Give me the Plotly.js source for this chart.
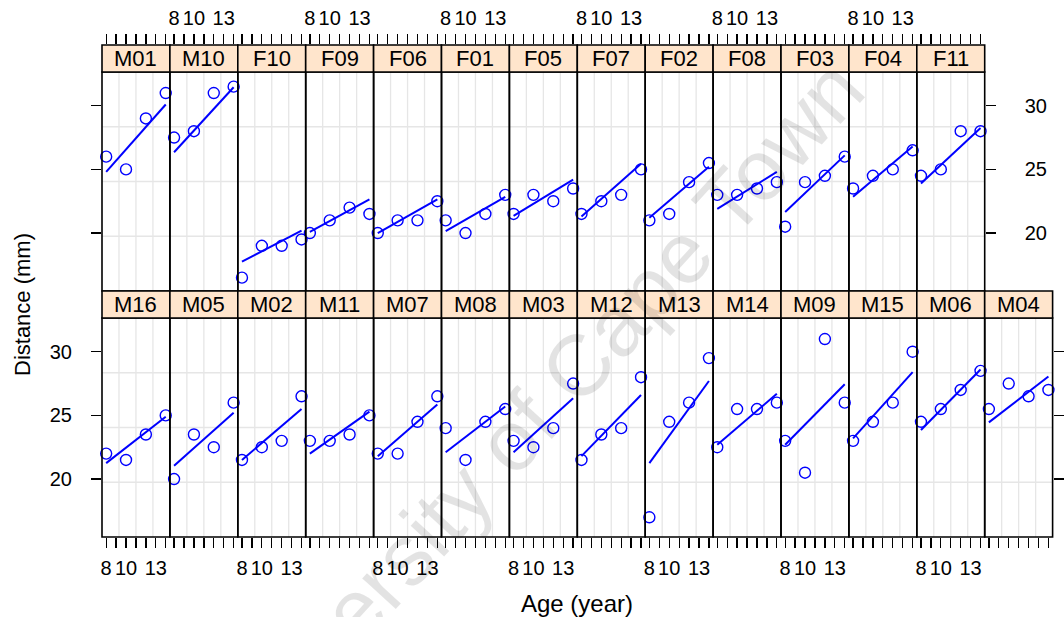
<!DOCTYPE html>
<html>
<head>
<meta charset="utf-8">
<script src="https://cdn.plot.ly/plotly-3.0.1.min.js"></script>
<style>html,body{margin:0;padding:0;background:#fff;}#chart{width:1064px;height:617px;}</style>
</head>
<body>
<div id="chart"></div>
<script>
// ---------------- data ----------------
const ages = [8, 10, 12, 14];
const ageTicks = [8, 9, 10, 11, 12, 13, 14];
const ageTickLabels = ['8', '', '10', '', '', '13', ''];
const distanceTicks = [20, 25, 30];

const topSubjects = ['M01','M10','F10','F09','F06','F01','F05','F07','F02','F08','F03','F04','F11'];
const topDistances = [
  [26, 25, 29, 31], [27.5, 28, 31, 31.5], [16.5, 19, 19, 19.5], [20, 21, 22, 21.5],
  [20, 21, 21, 22.5], [21, 20, 21.5, 23], [21.5, 23, 22.5, 23.5], [21.5, 22.5, 23, 25],
  [21, 21.5, 24, 25.5], [23, 23, 23.5, 24], [20.5, 24, 24.5, 26], [23.5, 24.5, 25, 26.5],
  [24.5, 25, 28, 28]
];
const topFitAt8  = [24.8, 26.35, 17.75, 20.1, 20.0, 20.15, 21.35, 21.3, 21.2, 21.9, 21.65, 22.85, 23.9];
const topFitAt14 = [30.1, 31.45, 20.2, 22.65, 22.65, 22.85, 24.2, 25.45, 25.2, 24.8, 26.1, 26.8, 28.25];

const bottomSubjects = ['M16','M05','M02','M11','M07','M08','M03','M12','M13','M14','M09','M15','M06','M04'];
const bottomDistances = [
  [22, 21.5, 23.5, 25], [20, 23.5, 22.5, 26], [21.5, 22.5, 23, 26.5], [23, 23, 23.5, 25],
  [22, 22, 24.5, 26.5], [24, 21.5, 24.5, 25.5], [23, 22.5, 24, 27.5], [21.5, 23.5, 24, 28],
  [17, 24.5, 26, 29.5], [22.5, 25.5, 25.5, 26], [23, 20.5, 31, 26], [23, 24.5, 26, 30],
  [24.5, 25.5, 27, 28.5], [25.5, 27.5, 26.5, 27]
];
const bottomFitAt8  = [21.25, 21.05, 21.5, 22.0, 21.8, 22.1, 22.1, 21.8, 21.25, 22.7, 22.7, 23.2, 23.85, 24.45];
const bottomFitAt14 = [24.9, 25.2, 25.5, 25.3, 25.85, 25.7, 26.35, 26.6, 27.7, 26.7, 27.45, 28.4, 28.6, 28.05];

const xTitle = 'Age (year)';
const yTitle = 'Distance (mm)';
const watermark = 'University of Cape Town';

// ---------------- geometry ----------------
const W = 1064, H = 617;
const colLeft = 102, colW = 67.9;
const topPanel = [72, 291], bottomPanel = [318, 537];
const topStrip = [45, 72], bottomStrip = [291, 318];
const FONT = 'Liberation Sans, Arial, Helvetica, sans-serif';
const BLUE = '#0000ff';
const xRange = [7.58, 14.42];
const yRange = [15.45, 32.65];

function xd(c) { return [(colLeft + c * colW) / W, (colLeft + (c + 1) * colW) / W]; }
function yd(p) { return [1 - p[1] / H, 1 - p[0] / H]; }
function xid(n) { return n === 1 ? 'x' : 'x' + n; }
function xkey(n) { return n === 1 ? 'xaxis' : 'xaxis' + n; }

const traces = [];
const shapes = [];
const annotations = [];
const layout = {
  width: W, height: H, autosize: false,
  margin: {l: 0, r: 0, t: 0, b: 0, pad: 0},
  paper_bgcolor: '#ffffff', plot_bgcolor: 'rgba(0,0,0,0)',
  showlegend: false,
  font: {family: FONT, color: '#000000', size: 18}
};

const baseX = {
  range: xRange, showgrid: false, zeroline: false, showline: false,
  ticks: 'outside', ticklen: 10, tickwidth: 1.3, tickcolor: '#000',
  tickmode: 'array', tickvals: ageTicks, ticktext: ageTickLabels,
  tickfont: {family: FONT, size: 20, color: '#000'}, ticklabelstandoff: 3,
  fixedrange: true
};
const baseY = {
  range: yRange, showgrid: false, zeroline: false, showline: false,
  ticks: 'outside', ticklen: 10, tickwidth: 1.3, tickcolor: '#000',
  tickmode: 'array', tickvals: distanceTicks, ticktext: distanceTicks.map(String),
  tickfont: {family: FONT, size: 20, color: '#000'}, ticklabelstandoff: 15,
  fixedrange: true
};

// bottom x axes (columns 1..14), anchored to bottom row
for (let c = 0; c < 14; c++) {
  layout[xkey(c + 1)] = Object.assign({}, baseX, {
    domain: xd(c), anchor: 'y', side: 'bottom',
    showticklabels: c % 2 === 0
  });
}
// top tick axes (columns 1..13), anchored to the strip row axis y3
for (let c = 0; c < 13; c++) {
  layout[xkey(15 + c)] = Object.assign({}, baseX, {
    domain: xd(c), anchor: 'y3', side: 'top',
    showticklabels: c % 2 === 1, ticklabelstandoff: 1
  });
  traces.push({type: 'scatter', x: [], y: [], xaxis: xid(15 + c), yaxis: 'y3', hoverinfo: 'skip', showlegend: false});
}
// y axes
layout.yaxis  = Object.assign({}, baseY, {domain: yd(bottomPanel), anchor: 'x', side: 'left'});
layout.yaxis2 = Object.assign({}, baseY, {domain: yd(topPanel), anchor: 'x13', side: 'right', ticklabelstandoff: 25});
layout.yaxis3 = {domain: yd(topStrip), range: [0, 1], visible: false, anchor: 'x15', fixedrange: true};
layout.yaxis4 = Object.assign({}, baseY, {domain: yd(bottomPanel), anchor: 'x14', side: 'right', showticklabels: false});
layout.yaxis5 = Object.assign({}, baseY, {domain: yd(topPanel), anchor: 'x', side: 'left', showticklabels: false});
traces.push({type: 'scatter', x: [], y: [], xaxis: 'x14', yaxis: 'y4', hoverinfo: 'skip', showlegend: false});
traces.push({type: 'scatter', x: [], y: [], xaxis: 'x', yaxis: 'y5', hoverinfo: 'skip', showlegend: false});

function addPanel(c, yAxisId, panelPix, stripPix, subject, values, fit8, fit14) {
  const xa = xid(c + 1);
  // grid (quarters of the panel)
  [0.25, 0.5, 0.75].forEach(f => {
    shapes.push({type: 'line', layer: 'below', xref: xa + ' domain', yref: 'paper',
      x0: f, x1: f, y0: 1 - panelPix[1] / H, y1: 1 - panelPix[0] / H,
      line: {color: '#e6e6e6', width: 1.3}});
    const yy = 1 - (panelPix[1] - f * (panelPix[1] - panelPix[0])) / H;
    shapes.push({type: 'line', layer: 'below', xref: xa + ' domain', yref: 'paper',
      x0: 0, x1: 1, y0: yy, y1: yy, line: {color: '#e6e6e6', width: 1.3}});
  });
  // fitted line
  traces.push({type: 'scatter', mode: 'lines', x: [ages[0], ages[ages.length - 1]], y: [fit8, fit14],
    xaxis: xa, yaxis: yAxisId, line: {color: BLUE, width: 2}, hoverinfo: 'skip', showlegend: false});
  // observations
  traces.push({type: 'scatter', mode: 'markers', x: ages, y: values, xaxis: xa, yaxis: yAxisId,
    marker: {symbol: 'circle-open', size: 11, color: BLUE, line: {color: BLUE, width: 1.4}},
    cliponaxis: false, showlegend: false, name: subject});
  // panel border
  shapes.push({type: 'rect', layer: 'above', xref: xa + ' domain', yref: 'paper',
    x0: 0, x1: 1, y0: 1 - panelPix[1] / H, y1: 1 - panelPix[0] / H,
    line: {color: '#000', width: 1.6}, fillcolor: 'rgba(0,0,0,0)'});
  // strip
  shapes.push({type: 'rect', layer: 'above', xref: xa + ' domain', yref: 'paper',
    x0: 0, x1: 1, y0: 1 - stripPix[1] / H, y1: 1 - stripPix[0] / H,
    line: {color: '#000', width: 1.6}, fillcolor: '#ffe5cc'});
  annotations.push({xref: xa + ' domain', yref: 'paper', x: 0.5,
    y: 1 - (stripPix[0] + stripPix[1]) / 2 / H, text: subject, showarrow: false,
    xanchor: 'center', yanchor: 'middle', font: {family: FONT, size: 22, color: '#000'}});
}

for (let c = 0; c < topSubjects.length; c++) {
  addPanel(c, 'y2', topPanel, topStrip, topSubjects[c], topDistances[c], topFitAt8[c], topFitAt14[c]);
}
for (let c = 0; c < bottomSubjects.length; c++) {
  addPanel(c, 'y', bottomPanel, bottomStrip, bottomSubjects[c], bottomDistances[c], bottomFitAt8[c], bottomFitAt14[c]);
}

// axis titles
annotations.push({xref: 'paper', yref: 'paper', x: 22 / W, y: 1 - 305 / H, text: yTitle, textangle: -90,
  showarrow: false, xanchor: 'center', yanchor: 'middle', font: {family: FONT, size: 22, color: '#000'}});
annotations.push({xref: 'paper', yref: 'paper', x: 577 / W, y: 1 - 603 / H, text: xTitle,
  showarrow: false, xanchor: 'center', yanchor: 'middle', font: {family: FONT, size: 24, color: '#000'}});
// watermark (partly outside the page, as in the reference)
annotations.push({xref: 'paper', yref: 'paper', x: 534 / W, y: 1 - 414 / H, text: watermark, textangle: -47.5,
  showarrow: false, xanchor: 'center', yanchor: 'middle', font: {family: FONT, size: 86, color: 'rgba(0,0,0,0.11)'}});

layout.shapes = shapes;
layout.annotations = annotations;

Plotly.newPlot('chart', traces, layout, {staticPlot: true, displayModeBar: false});
</script>
</body>
</html>
